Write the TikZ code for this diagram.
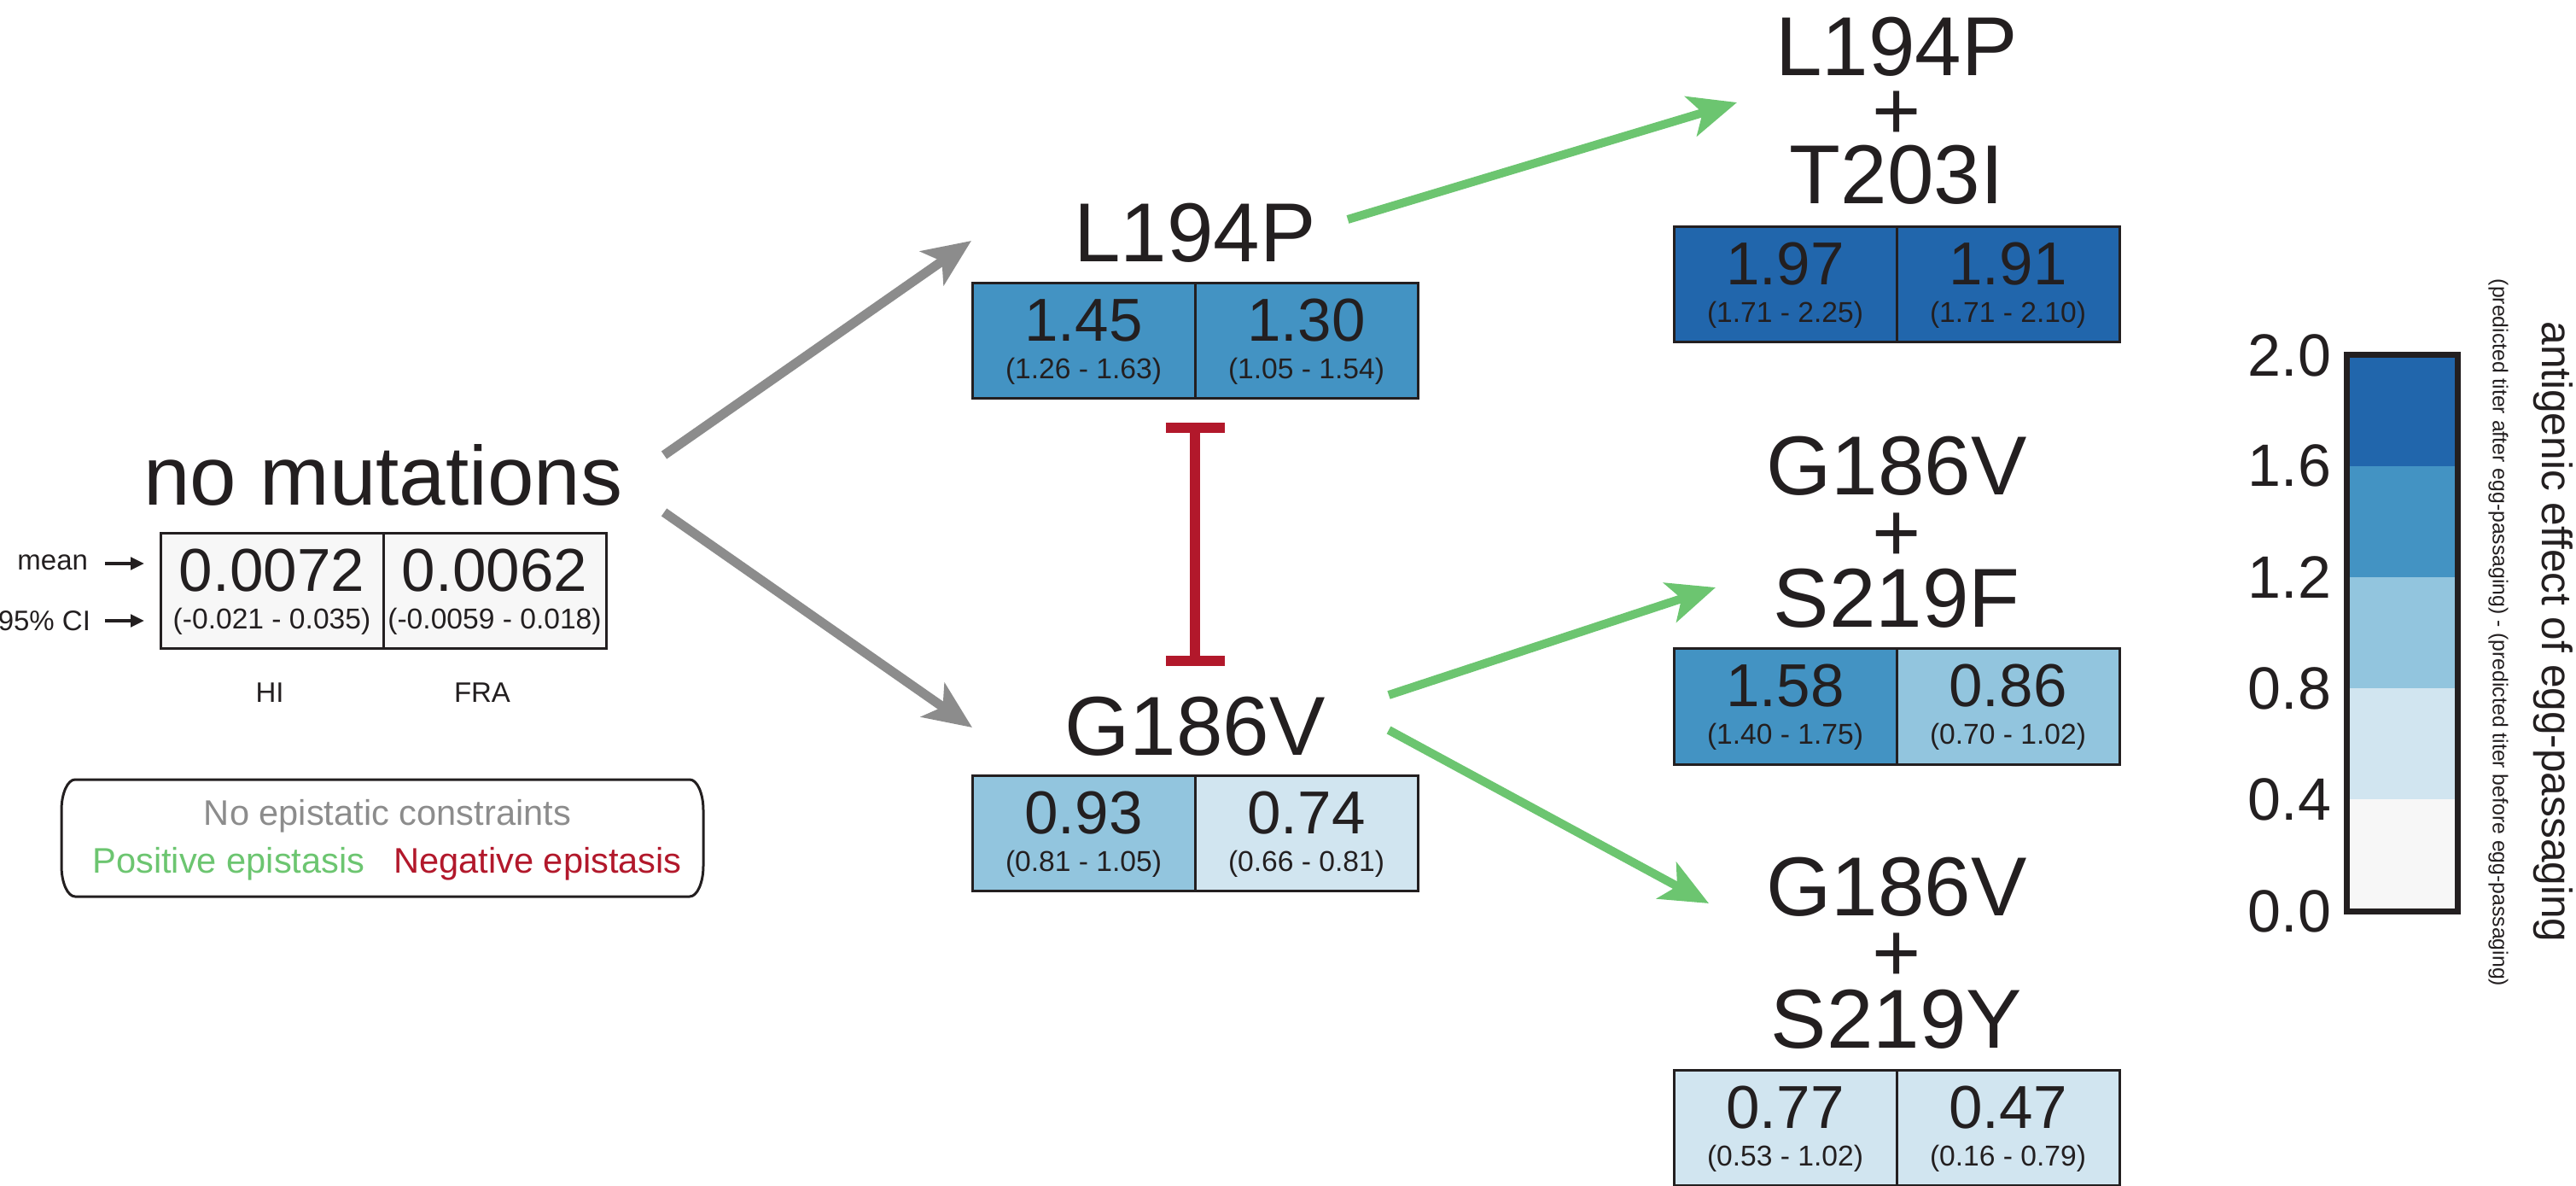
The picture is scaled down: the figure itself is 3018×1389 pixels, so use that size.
\documentclass[tikz,border=0pt]{standalone}
\usepackage{fontspec}
\setmainfont{Liberation Sans}
\usetikzlibrary{arrows.meta,calc}
\definecolor{ink}{HTML}{231F20}
\definecolor{cA}{HTML}{F7F7F7}
\definecolor{cB}{HTML}{D1E5F0}
\definecolor{cC}{HTML}{92C5DE}
\definecolor{cD}{HTML}{4393C3}
\definecolor{cE}{HTML}{2166AC}
\definecolor{posg}{HTML}{6CC570}
\definecolor{negr}{HTML}{B2182B}
\definecolor{nog}{HTML}{8C8C8C}
\newcommand{\fs}[1]{\fontsize{#1}{#1}\selectfont}
\newcommand{\pairbox}[9]{%
  \node[cell, fill=#4] (#1L) at (#2,#3) {};
  \node[cell, fill=#5] (#1R) at (#1L.north east) {};
  \node[val] (#1Lv) at ($(#1L.north)+(0,68)$) {#6};
  \node[ci]  (#1Lc) at ($(#1L.north)+(0,112)$) {#7};
  \node[val] (#1Rv) at ($(#1R.north)+(0,68)$) {#8};
  \node[ci]  (#1Rc) at ($(#1R.north)+(0,112)$) {#9};
}
\begin{document}
\begin{tikzpicture}[x=0.25pt,y=-0.25pt,
  every node/.style={inner sep=0pt, outer sep=0pt, text=ink},
  title/.style={font=\fs{24.5pt}, anchor=base},
  stack/.style={anchor=base, align=center, font=\fontsize{24.5pt}{#1}\selectfont},
  cell/.style={draw=ink, line width=0.75pt, minimum width=65.25pt, minimum height=33.75pt, anchor=north west},
  val/.style={font=\fs{17.75pt}, anchor=base},
  ci/.style={font=\fs{8.4pt}, anchor=base},
  small/.style={font=\fs{8.25pt}},
  leg/.style={font=\fs{10.4pt}, anchor=base},
  tick/.style={font=\fs{17.5pt}, anchor=east},
  grayarrow/.style={draw=nog, line width=2.75pt, -{Stealth[length=14pt,width=12pt,inset=3.5pt]}},
  posarrow/.style={draw=posg, line width=2.5pt, -{Stealth[length=14pt,width=12pt,inset=3.5pt]}},
  negline/.style={draw=negr, line width=3pt, {Bar[width=17.25pt]}-{Bar[width=17.25pt]}},
  lblarrow/.style={draw=ink, line width=1pt, -{Triangle[length=4pt,width=3.6pt]}},
]
\useasboundingbox (0,0) rectangle (3018,1389);

% titles
\node[title] (tnm) at (449,592) {no mutations};
\node[title] (tL) at (1400,307) {L194P};
\node[title] (tG) at (1400,884) {G186V};
\node[stack=18.75pt] (tr1) at (2222,239) {L194P\\+\\T203I};
\node[stack=19.375pt] (tr2) at (2222,735) {G186V\\+\\S219F};
\node[stack=19.375pt] (tr3) at (2222,1227) {G186V\\+\\S219Y};

% boxes
\pairbox{nm}{188}{625}{cA}{cA}{0.0072}{(-0.021 - 0.035)}{0.0062}{(-0.0059 - 0.018)}
\pairbox{lp}{1139}{332}{cD}{cD}{1.45}{(1.26 - 1.63)}{1.30}{(1.05 - 1.54)}
\pairbox{gv}{1139}{908}{cC}{cB}{0.93}{(0.81 - 1.05)}{0.74}{(0.66 - 0.81)}
\pairbox{lt}{1961}{266}{cE}{cE}{1.97}{(1.71 - 2.25)}{1.91}{(1.71 - 2.10)}
\pairbox{sf}{1961}{760}{cD}{cC}{1.58}{(1.40 - 1.75)}{0.86}{(0.70 - 1.02)}
\pairbox{sy}{1961}{1253}{cB}{cB}{0.77}{(0.53 - 1.02)}{0.47}{(0.16 - 0.79)}

% side labels
\node[small, anchor=base east] (meanlbl) at (103,668) {mean};
\node[small, anchor=base east] (cilbl) at (106,739) {95\% CI};
\coordinate (meanA) at (123,660);
\coordinate (meanB) at (169,660);
\coordinate (ciA) at (123,727);
\coordinate (ciB) at (169,727);
\draw[lblarrow] (meanA) -- (meanB);
\draw[lblarrow] (ciA) -- (ciB);
\node[small, anchor=base] (hi) at (316,822) {HI};
\node[small, anchor=base] (fra) at (565,822) {FRA};

% legend
\draw[ink, line width=0.75pt]
  (88,913) -- (808,913)
  .. controls (816.8,913) and (824,929.1) .. (824,949)
  -- (824,1014)
  .. controls (824,1033.9) and (816.8,1050) .. (808,1050)
  -- (88,1050)
  .. controls (79.2,1050) and (72,1033.9) .. (72,1014)
  -- (72,949)
  .. controls (72,929.1) and (79.2,913) .. (88,913) -- cycle;
\node[leg, text=nog] (legno) at (454,966) {No epistatic constraints};
\node[leg, text=posg] (legpos) at (268,1022) {Positive epistasis};
\node[leg, text=negr] (legneg) at (630,1022) {Negative epistasis};

% connectors
\coordinate (g1s) at (778,533);
\coordinate (g1e) at (1138,282);
\coordinate (g2s) at (778,600);
\coordinate (g2e) at (1139,852);
\draw[grayarrow] (g1s) -- (g1e);
\draw[grayarrow] (g2s) -- (g2e);
\coordinate (p1s) at (1579,257);
\coordinate (p1e) at (2035,120);
\coordinate (p2s) at (1627,814);
\coordinate (p2e) at (2010,688);
\coordinate (p3s) at (1627,855);
\coordinate (p3e) at (2002,1058);
\draw[posarrow] (p1s) -- (p1e);
\draw[posarrow] (p2s) -- (p2e);
\draw[posarrow] (p3s) -- (p3e);
\coordinate (nA) at ($(lpL.south east)+(0,28)$);
\coordinate (nB) at ($(gvL.north east)+(0,-128)$);
\draw[negline] (nA) -- (nB);

% colour bar
\fill[cA] (2749,936.4) rectangle (2879,1067);
\fill[cB] (2749,806.2) rectangle (2879,936.4);
\fill[cC] (2749,676.0) rectangle (2879,806.2);
\fill[cD] (2749,545.8) rectangle (2879,676.0);
\fill[cE] (2749,416) rectangle (2879,545.8);
\draw[ink, line width=1.75pt] (2749,416) rectangle (2879,1067);
\node[tick] (k20) at (2731,416) {2.0};
\node[tick] (k16) at (2731,545.8) {1.6};
\node[tick] (k12) at (2731,676) {1.2};
\node[tick] (k08) at (2731,806.2) {0.8};
\node[tick] (k04) at (2731,936.4) {0.4};
\node[tick] (k00) at (2731,1067) {0.0};
\node[rotate=-90, font=\fs{12.4pt}] (axl) at (2991,740) {antigenic effect of egg-passaging};
\node[rotate=-90, font=\fs{6.2pt}] (axs) at (2927,741) {(predicted titer after egg-passaging) - (predicted titer before egg-passaging)};
\end{tikzpicture}
\end{document}
